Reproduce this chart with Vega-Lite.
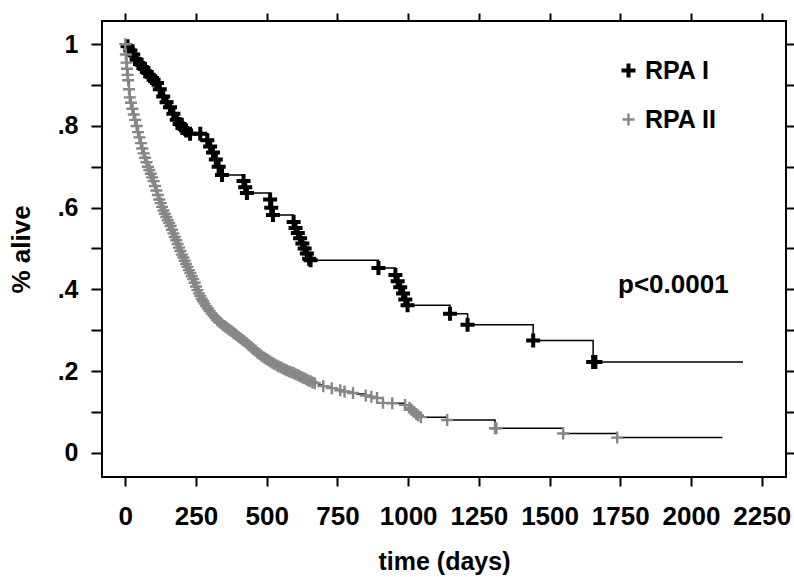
{
  "$schema": "https://vega.github.io/schema/vega-lite/v6.json",
  "autosize": {"type": "none"},
  "padding": {"left": 102, "top": 21, "right": 8, "bottom": 100},
  "width": 684,
  "height": 456,
  "background": "white",
  "data": {"values": [
    {"g":"RPA I","t":0,"s":1.0,"c":0},
    {"g":"RPA I","t":8,"s":0.995,"c":1},
    {"g":"RPA I","t":18,"s":0.985,"c":1},
    {"g":"RPA I","t":28,"s":0.975,"c":1},
    {"g":"RPA I","t":40,"s":0.962,"c":1},
    {"g":"RPA I","t":52,"s":0.952,"c":1},
    {"g":"RPA I","t":64,"s":0.942,"c":1},
    {"g":"RPA I","t":76,"s":0.932,"c":1},
    {"g":"RPA I","t":88,"s":0.922,"c":1},
    {"g":"RPA I","t":100,"s":0.913,"c":1},
    {"g":"RPA I","t":112,"s":0.905,"c":1},
    {"g":"RPA I","t":122,"s":0.89,"c":1},
    {"g":"RPA I","t":134,"s":0.872,"c":1},
    {"g":"RPA I","t":146,"s":0.858,"c":1},
    {"g":"RPA I","t":158,"s":0.846,"c":1},
    {"g":"RPA I","t":170,"s":0.83,"c":1},
    {"g":"RPA I","t":182,"s":0.815,"c":1},
    {"g":"RPA I","t":192,"s":0.805,"c":1},
    {"g":"RPA I","t":202,"s":0.795,"c":1},
    {"g":"RPA I","t":215,"s":0.789,"c":1},
    {"g":"RPA I","t":229,"s":0.781,"c":1},
    {"g":"RPA I","t":265,"s":0.781,"c":1},
    {"g":"RPA I","t":290,"s":0.765,"c":1},
    {"g":"RPA I","t":300,"s":0.75,"c":1},
    {"g":"RPA I","t":310,"s":0.735,"c":1},
    {"g":"RPA I","t":320,"s":0.718,"c":1},
    {"g":"RPA I","t":330,"s":0.70,"c":1},
    {"g":"RPA I","t":342,"s":0.68,"c":1},
    {"g":"RPA I","t":418,"s":0.665,"c":1},
    {"g":"RPA I","t":424,"s":0.65,"c":1},
    {"g":"RPA I","t":430,"s":0.636,"c":1},
    {"g":"RPA I","t":512,"s":0.62,"c":1},
    {"g":"RPA I","t":516,"s":0.60,"c":1},
    {"g":"RPA I","t":522,"s":0.582,"c":1},
    {"g":"RPA I","t":595,"s":0.565,"c":1},
    {"g":"RPA I","t":602,"s":0.55,"c":1},
    {"g":"RPA I","t":610,"s":0.538,"c":1},
    {"g":"RPA I","t":618,"s":0.525,"c":1},
    {"g":"RPA I","t":626,"s":0.512,"c":1},
    {"g":"RPA I","t":634,"s":0.50,"c":1},
    {"g":"RPA I","t":642,"s":0.488,"c":1},
    {"g":"RPA I","t":650,"s":0.475,"c":1},
    {"g":"RPA I","t":655,"s":0.471,"c":1},
    {"g":"RPA I","t":895,"s":0.452,"c":1},
    {"g":"RPA I","t":955,"s":0.435,"c":1},
    {"g":"RPA I","t":963,"s":0.42,"c":1},
    {"g":"RPA I","t":972,"s":0.405,"c":1},
    {"g":"RPA I","t":982,"s":0.39,"c":1},
    {"g":"RPA I","t":990,"s":0.375,"c":1},
    {"g":"RPA I","t":998,"s":0.361,"c":1},
    {"g":"RPA I","t":1148,"s":0.340,"c":1},
    {"g":"RPA I","t":1210,"s":0.313,"c":1},
    {"g":"RPA I","t":1442,"s":0.275,"c":1},
    {"g":"RPA I","t":1654,"s":0.222,"c":1},
    {"g":"RPA I","t":1662,"s":0.222,"c":1},
    {"g":"RPA I","t":2184,"s":0.222,"c":0},
    {"g":"RPA II","t":0,"s":1.0,"c":1},
    {"g":"RPA II","t":2,"s":0.975,"c":1},
    {"g":"RPA II","t":4,"s":0.955,"c":1},
    {"g":"RPA II","t":6,"s":0.94,"c":1},
    {"g":"RPA II","t":8,"s":0.925,"c":1},
    {"g":"RPA II","t":10,"s":0.912,"c":1},
    {"g":"RPA II","t":13,"s":0.89,"c":1},
    {"g":"RPA II","t":16,"s":0.87,"c":1},
    {"g":"RPA II","t":20,"s":0.857,"c":1},
    {"g":"RPA II","t":25,"s":0.842,"c":1},
    {"g":"RPA II","t":30,"s":0.828,"c":1},
    {"g":"RPA II","t":35,"s":0.815,"c":1},
    {"g":"RPA II","t":40,"s":0.80,"c":1},
    {"g":"RPA II","t":45,"s":0.785,"c":1},
    {"g":"RPA II","t":50,"s":0.772,"c":1},
    {"g":"RPA II","t":55,"s":0.758,"c":1},
    {"g":"RPA II","t":60,"s":0.745,"c":1},
    {"g":"RPA II","t":65,"s":0.733,"c":1},
    {"g":"RPA II","t":70,"s":0.722,"c":1},
    {"g":"RPA II","t":75,"s":0.711,"c":1},
    {"g":"RPA II","t":80,"s":0.70,"c":1},
    {"g":"RPA II","t":85,"s":0.692,"c":1},
    {"g":"RPA II","t":90,"s":0.683,"c":1},
    {"g":"RPA II","t":95,"s":0.674,"c":1},
    {"g":"RPA II","t":100,"s":0.665,"c":1},
    {"g":"RPA II","t":105,"s":0.653,"c":1},
    {"g":"RPA II","t":110,"s":0.642,"c":1},
    {"g":"RPA II","t":115,"s":0.631,"c":1},
    {"g":"RPA II","t":120,"s":0.62,"c":1},
    {"g":"RPA II","t":125,"s":0.611,"c":1},
    {"g":"RPA II","t":130,"s":0.602,"c":1},
    {"g":"RPA II","t":135,"s":0.593,"c":1},
    {"g":"RPA II","t":140,"s":0.585,"c":1},
    {"g":"RPA II","t":145,"s":0.577,"c":1},
    {"g":"RPA II","t":150,"s":0.569,"c":1},
    {"g":"RPA II","t":155,"s":0.562,"c":1},
    {"g":"RPA II","t":160,"s":0.555,"c":1},
    {"g":"RPA II","t":165,"s":0.546,"c":1},
    {"g":"RPA II","t":170,"s":0.537,"c":1},
    {"g":"RPA II","t":175,"s":0.528,"c":1},
    {"g":"RPA II","t":180,"s":0.52,"c":1},
    {"g":"RPA II","t":185,"s":0.511,"c":1},
    {"g":"RPA II","t":190,"s":0.502,"c":1},
    {"g":"RPA II","t":195,"s":0.494,"c":1},
    {"g":"RPA II","t":200,"s":0.485,"c":1},
    {"g":"RPA II","t":205,"s":0.478,"c":1},
    {"g":"RPA II","t":210,"s":0.47,"c":1},
    {"g":"RPA II","t":215,"s":0.462,"c":1},
    {"g":"RPA II","t":220,"s":0.455,"c":1},
    {"g":"RPA II","t":225,"s":0.447,"c":1},
    {"g":"RPA II","t":230,"s":0.44,"c":1},
    {"g":"RPA II","t":235,"s":0.432,"c":1},
    {"g":"RPA II","t":240,"s":0.425,"c":1},
    {"g":"RPA II","t":245,"s":0.416,"c":1},
    {"g":"RPA II","t":250,"s":0.407,"c":1},
    {"g":"RPA II","t":255,"s":0.398,"c":1},
    {"g":"RPA II","t":260,"s":0.39,"c":1},
    {"g":"RPA II","t":265,"s":0.384,"c":1},
    {"g":"RPA II","t":270,"s":0.377,"c":1},
    {"g":"RPA II","t":275,"s":0.371,"c":1},
    {"g":"RPA II","t":280,"s":0.365,"c":1},
    {"g":"RPA II","t":286,"s":0.359,"c":1},
    {"g":"RPA II","t":292,"s":0.353,"c":1},
    {"g":"RPA II","t":298,"s":0.347,"c":1},
    {"g":"RPA II","t":305,"s":0.341,"c":1},
    {"g":"RPA II","t":312,"s":0.335,"c":1},
    {"g":"RPA II","t":318,"s":0.330,"c":1},
    {"g":"RPA II","t":325,"s":0.325,"c":1},
    {"g":"RPA II","t":331,"s":0.321,"c":1},
    {"g":"RPA II","t":337,"s":0.318,"c":1},
    {"g":"RPA II","t":343,"s":0.314,"c":1},
    {"g":"RPA II","t":350,"s":0.31,"c":1},
    {"g":"RPA II","t":356,"s":0.307,"c":1},
    {"g":"RPA II","t":362,"s":0.304,"c":1},
    {"g":"RPA II","t":368,"s":0.301,"c":1},
    {"g":"RPA II","t":375,"s":0.298,"c":1},
    {"g":"RPA II","t":381,"s":0.294,"c":1},
    {"g":"RPA II","t":387,"s":0.291,"c":1},
    {"g":"RPA II","t":393,"s":0.288,"c":1},
    {"g":"RPA II","t":400,"s":0.284,"c":1},
    {"g":"RPA II","t":407,"s":0.280,"c":1},
    {"g":"RPA II","t":415,"s":0.276,"c":1},
    {"g":"RPA II","t":422,"s":0.272,"c":1},
    {"g":"RPA II","t":430,"s":0.268,"c":1},
    {"g":"RPA II","t":437,"s":0.263,"c":1},
    {"g":"RPA II","t":445,"s":0.259,"c":1},
    {"g":"RPA II","t":452,"s":0.254,"c":1},
    {"g":"RPA II","t":460,"s":0.25,"c":1},
    {"g":"RPA II","t":467,"s":0.245,"c":1},
    {"g":"RPA II","t":475,"s":0.241,"c":1},
    {"g":"RPA II","t":482,"s":0.237,"c":1},
    {"g":"RPA II","t":490,"s":0.233,"c":1},
    {"g":"RPA II","t":497,"s":0.230,"c":1},
    {"g":"RPA II","t":505,"s":0.227,"c":1},
    {"g":"RPA II","t":512,"s":0.223,"c":1},
    {"g":"RPA II","t":520,"s":0.22,"c":1},
    {"g":"RPA II","t":527,"s":0.217,"c":1},
    {"g":"RPA II","t":535,"s":0.214,"c":1},
    {"g":"RPA II","t":542,"s":0.211,"c":1},
    {"g":"RPA II","t":550,"s":0.209,"c":1},
    {"g":"RPA II","t":557,"s":0.206,"c":1},
    {"g":"RPA II","t":565,"s":0.204,"c":1},
    {"g":"RPA II","t":572,"s":0.201,"c":1},
    {"g":"RPA II","t":580,"s":0.199,"c":1},
    {"g":"RPA II","t":587,"s":0.197,"c":1},
    {"g":"RPA II","t":595,"s":0.195,"c":1},
    {"g":"RPA II","t":602,"s":0.192,"c":1},
    {"g":"RPA II","t":610,"s":0.19,"c":1},
    {"g":"RPA II","t":617,"s":0.187,"c":1},
    {"g":"RPA II","t":625,"s":0.185,"c":1},
    {"g":"RPA II","t":632,"s":0.182,"c":1},
    {"g":"RPA II","t":640,"s":0.18,"c":1},
    {"g":"RPA II","t":647,"s":0.177,"c":1},
    {"g":"RPA II","t":655,"s":0.175,"c":1},
    {"g":"RPA II","t":662,"s":0.172,"c":1},
    {"g":"RPA II","t":670,"s":0.17,"c":1},
    {"g":"RPA II","t":685,"s":0.166,"c":0},
    {"g":"RPA II","t":700,"s":0.163,"c":1},
    {"g":"RPA II","t":715,"s":0.16,"c":0},
    {"g":"RPA II","t":730,"s":0.158,"c":1},
    {"g":"RPA II","t":745,"s":0.155,"c":0},
    {"g":"RPA II","t":760,"s":0.153,"c":1},
    {"g":"RPA II","t":775,"s":0.15,"c":1},
    {"g":"RPA II","t":790,"s":0.148,"c":0},
    {"g":"RPA II","t":805,"s":0.146,"c":1},
    {"g":"RPA II","t":820,"s":0.144,"c":0},
    {"g":"RPA II","t":850,"s":0.14,"c":1},
    {"g":"RPA II","t":870,"s":0.137,"c":1},
    {"g":"RPA II","t":890,"s":0.134,"c":1},
    {"g":"RPA II","t":911,"s":0.122,"c":1},
    {"g":"RPA II","t":944,"s":0.121,"c":1},
    {"g":"RPA II","t":989,"s":0.117,"c":1},
    {"g":"RPA II","t":1005,"s":0.11,"c":1},
    {"g":"RPA II","t":1012,"s":0.105,"c":1},
    {"g":"RPA II","t":1020,"s":0.10,"c":1},
    {"g":"RPA II","t":1028,"s":0.095,"c":1},
    {"g":"RPA II","t":1035,"s":0.091,"c":1},
    {"g":"RPA II","t":1045,"s":0.087,"c":1},
    {"g":"RPA II","t":1138,"s":0.080,"c":1},
    {"g":"RPA II","t":1307,"s":0.060,"c":1},
    {"g":"RPA II","t":1312,"s":0.060,"c":1},
    {"g":"RPA II","t":1548,"s":0.047,"c":1},
    {"g":"RPA II","t":1739,"s":0.037,"c":1},
    {"g":"RPA II","t":2111,"s":0.037,"c":0}
  ]},
  "layer": [
    {
      "mark": {"type": "line", "interpolate": "step-after", "color": "black", "strokeWidth": 1.5},
      "encoding": {
        "x": {"field": "t", "type": "quantitative",
          "scale": {"domain": [-82.4, 2335.9], "nice": false, "zero": false},
          "axis": {"orient": "bottom", "title": "time (days)", "values": [0,250,500,750,1000,1250,1500,1750,2000,2250], "format": "d",
            "tickSize": 9, "labelPadding": 17, "labelFontSize": 26, "titleFontSize": 25, "titlePadding": 20, "labelFlush": false, "labelOverlap": false}},
        "y": {"field": "s", "type": "quantitative",
          "scale": {"domain": [-0.0595, 1.057], "nice": false, "zero": false},
          "axis": {"orient": "left", "title": "% alive", "values": [0,0.1,0.2,0.3,0.4,0.5,0.6,0.7,0.8,0.9,1],
            "labelExpr": "datum.value == 0 ? '0' : datum.value > 0.99 ? '1' : (round(datum.value*10) % 2 == 0 ? '.' + round(datum.value*10) : '')",
            "tickSize": 11, "labelPadding": 13, "labelFontSize": 25, "titleFontSize": 26, "titlePadding": 23, "labelFlush": false, "labelOverlap": false}},
        "detail": {"field": "g"}
      }
    },
    {
      "transform": [{"filter": "datum.c == 1"}],
      "mark": {"type": "point", "shape": "M-1,0H1M0,-1V1", "filled": false, "opacity": 1},
      "encoding": {
        "x": {"field": "t", "type": "quantitative", "axis": null},
        "y": {"field": "s", "type": "quantitative", "axis": null},
        "color": {"field": "g", "type": "nominal",
          "scale": {"domain": ["RPA I", "RPA II"], "range": ["#000000", "#878787"]},
          "legend": {"title": null, "orient": "none", "legendX": 514, "legendY": 37, "padding": 0,
            "labelFont": "Liberation Sans", "labelFontSize": 25, "labelFontWeight": "bold", "labelColor": "black",
            "labelOffset": 4, "rowPadding": 21, "symbolType": "M-1,0H1M0,-1V1"}},
        "size": {"field": "g", "type": "nominal", "scale": {"domain": ["RPA I", "RPA II"], "range": [196, 144]}},
        "strokeWidth": {"field": "g", "type": "nominal", "scale": {"domain": ["RPA I", "RPA II"], "range": [4, 2.4]}}
      }
    },
    {
      "data": {"values": [{"t": 1742, "s": 0.391, "label": "p<0.0001"}]},
      "mark": {"type": "text", "align": "left", "baseline": "alphabetic", "font": "Liberation Sans", "fontSize": 26, "fontWeight": "bold", "color": "black"},
      "encoding": {
        "x": {"field": "t", "type": "quantitative",
          "axis": {"orient": "top", "labels": false, "title": null, "values": [0,250,500,750,1000,1250,1500,1750,2000,2250], "tickSize": 8}},
        "y": {"field": "s", "type": "quantitative",
          "axis": {"orient": "right", "labels": false, "title": null, "values": [0,0.1,0.2,0.3,0.4,0.5,0.6,0.7,0.8,0.9,1], "tickSize": 8}},
        "text": {"field": "label"}
      }
    }
  ],
  "resolve": {"axis": {"x": "independent", "y": "independent"}},
  "config": {
    "view": {"stroke": "black", "strokeWidth": 2},
    "axis": {"domain": false, "grid": false, "tickColor": "black", "tickWidth": 2,
      "labelFont": "Liberation Sans", "labelFontWeight": "bold", "labelColor": "black",
      "titleFont": "Liberation Sans", "titleFontWeight": "bold", "titleColor": "black"}
  }
}
